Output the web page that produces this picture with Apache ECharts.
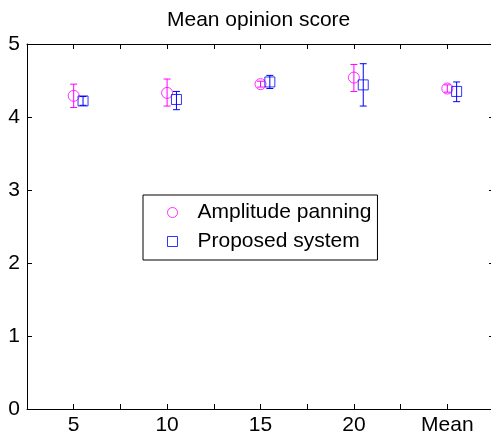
<!DOCTYPE html>
<html>
<head>
<meta charset="utf-8">
<script src="https://cdn.jsdelivr.net/npm/echarts@6/dist/echarts.min.js"></script>
<style>html,body{margin:0;padding:0;background:#fff}#c{width:491px;height:435px}</style>
</head>
<body>
<div id="c"></div>
<script>
var positions = [5, 10, 15, 20, 25];
var tickLabels = {5: '5', 10: '10', 15: '15', 20: '20', 25: 'Mean'};
var ampMean = [4.29, 4.33, 4.45, 4.54, 4.39];
var ampLow  = [4.13, 4.15, 4.41, 4.35, 4.34];
var ampHigh = [4.45, 4.52, 4.49, 4.72, 4.44];
var propMean = [4.22, 4.24, 4.48, 4.44, 4.35];
var propLow  = [4.16, 4.10, 4.39, 4.15, 4.21];
var propHigh = [4.28, 4.35, 4.57, 4.73, 4.48];
var propOffset = 0.5;

var FONT = 'Liberation Sans, Arial, Helvetica, sans-serif';
var FS = 21;
var MAG = '#ff00ff', BLU = '#0000ff';

function pts(means, off) { return positions.map(function (p, i) { return [p + off, means[i]]; }); }
function errs(lo, hi, off) { return positions.map(function (p, i) { return [p + off, lo[i], hi[i]]; }); }

function errRender(color) {
  return function (params, api) {
    var x = api.value(0);
    var lo = api.coord([x, api.value(1)]);
    var hi = api.coord([x, api.value(2)]);
    var w = 3.5;
    var st = {stroke: color, lineWidth: 1};
    return {type: 'group', children: [
      {type: 'line', shape: {x1: lo[0], y1: lo[1], x2: hi[0], y2: hi[1]}, style: st},
      {type: 'line', shape: {x1: lo[0] - w, y1: lo[1], x2: lo[0] + w, y2: lo[1]}, style: st},
      {type: 'line', shape: {x1: hi[0] - w, y1: hi[1], x2: hi[0] + w, y2: hi[1]}, style: st}
    ]};
  };
}

function axLine() { return {show: true, onZero: false, lineStyle: {color: '#000', width: 1}}; }
function axTick() { return {show: true, inside: true, length: 5, lineStyle: {color: '#000', width: 1}}; }

var chart = echarts.init(document.getElementById('c'));
chart.setOption({
  animation: false,
  backgroundColor: '#fff',
  title: {text: 'Mean opinion score', left: 167, top: 10, padding: 0,
    textStyle: {fontFamily: FONT, fontSize: FS, fontWeight: 'normal', color: '#000'}},
  grid: {left: 27, top: 44, width: 467, height: 365, containLabel: false, outerBoundsMode: 'none'},
  legend: {
    orient: 'vertical', left: 143, top: 195,
    padding: [7, 6, 8, 24],
    itemWidth: 10, itemHeight: 10, itemGap: 8,
    borderColor: '#000', borderWidth: 1, backgroundColor: '#fff',
    textStyle: {fontFamily: FONT, fontSize: FS, color: '#000', lineHeight: 20, padding: [0, 0, 0, 15]},
    data: [
      {name: 'Amplitude panning', icon: 'circle', itemStyle: {color: 'transparent', borderColor: MAG, borderWidth: 1}},
      {name: 'Proposed system', icon: 'path://M0,0L10,0L10,10L0,10Z', itemStyle: {color: 'transparent', borderColor: BLU, borderWidth: 1}}
    ]
  },
  xAxis: [
    {type: 'value', min: 2.5, max: 27.5, interval: 2.5, position: 'bottom',
      axisLine: axLine(), axisTick: axTick(), splitLine: {show: false},
      axisLabel: {fontFamily: FONT, fontSize: FS, color: '#000', margin: 6,
        formatter: function (v) { return tickLabels[v] || ''; }}},
    {type: 'value', min: 2.5, max: 27.5, interval: 2.5, position: 'top',
      axisLine: axLine(), axisTick: axTick(), splitLine: {show: false},
      axisLabel: {show: false}}
  ],
  yAxis: [
    {type: 'value', min: 0, max: 5, interval: 1, position: 'left',
      axisLine: axLine(), axisTick: axTick(), splitLine: {show: false},
      axisLabel: {fontFamily: FONT, fontSize: FS, color: '#000', margin: 7}},
    {type: 'value', min: 0, max: 5, interval: 1, position: 'right',
      axisLine: axLine(), axisTick: axTick(), splitLine: {show: false},
      axisLabel: {show: false}}
  ],
  series: [
    {type: 'custom', name: 'ampErr', renderItem: errRender(MAG), data: errs(ampLow, ampHigh, 0), z: 2, silent: true},
    {type: 'custom', name: 'propErr', renderItem: errRender(BLU), data: errs(propLow, propHigh, propOffset), z: 2, silent: true},
    {type: 'scatter', name: 'Amplitude panning', symbol: 'circle', symbolSize: 11,
      itemStyle: {color: 'transparent', borderColor: MAG, borderWidth: 1}, data: pts(ampMean, 0), z: 3},
    {type: 'scatter', name: 'Proposed system', symbol: 'rect', symbolSize: 10,
      itemStyle: {color: 'transparent', borderColor: BLU, borderWidth: 1}, data: pts(propMean, propOffset), z: 3}
  ]
});
</script>
</body>
</html>
